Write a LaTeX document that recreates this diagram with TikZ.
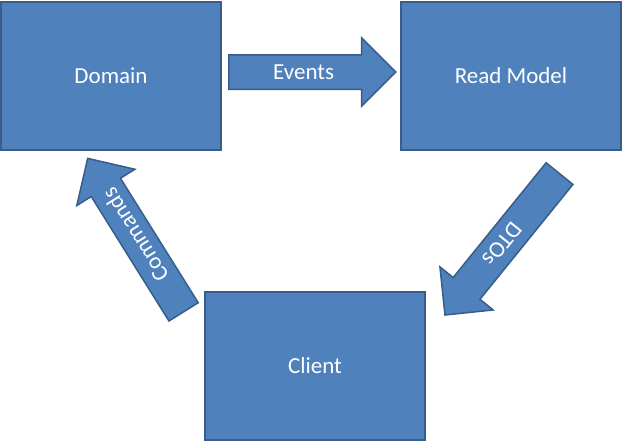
\documentclass[tikz,border=0pt]{standalone}
\usepackage{fontspec}
\setmainfont{Carlito}
\usepackage{xcolor}
\usetikzlibrary{positioning, shapes.arrows}
\definecolor{boxfill}{HTML}{4F81BD}
\definecolor{boxline}{HTML}{385D8A}
\tikzset{
    x=1pt, y=-1pt, % pixel like units, y going down
    every node/.style={font=\fontsize{23}{27}\selectfont, text=white},
    block/.style={rectangle, fill=boxfill, draw=boxline, line width=2pt,
        minimum width=220pt, minimum height=148pt}, % the three boxes
    flow/.style={single arrow, anchor=tail, fill=boxfill, draw=boxline, line width=1.5pt,
        single arrow head extend=17pt, inner xsep=0pt, inner ysep=9pt,
        text height=15pt, text depth=0pt}, % the fat arrows, placed by their tail
}

\begin{document}
\begin{tikzpicture}
    \useasboundingbox (0,0) rectangle (623,442);
    \node[block] (domain) at (111,75.5) {Domain};
    \node[block] (readmodel) at (511,75.5) {Read Model};
    \node[block] (client) at (315,366) {Client};

    \node[flow, minimum height=167pt] (events) at (228,72) {Events};
    \node[flow, minimum height=182pt, rotate=231] (dtos) at (560,173) {\hspace*{18pt}DTOs};
    \node[flow, minimum height=181pt, rotate=122] (commands) at (184,312.5) {\hspace*{18pt}Commands};
\end{tikzpicture}
\end{document}
